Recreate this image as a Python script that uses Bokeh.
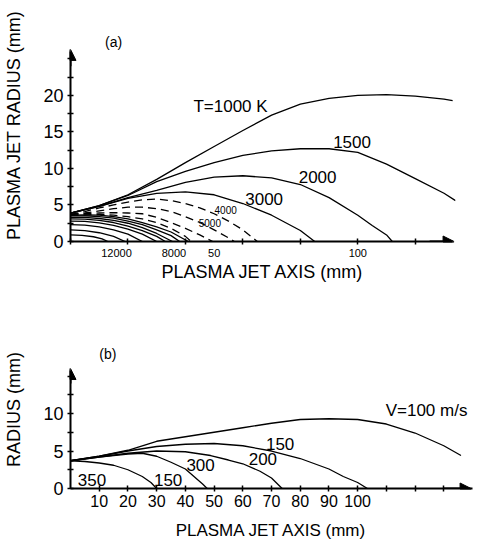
from bokeh.plotting import figure
from bokeh.models import Range1d, FixedTicker, Arrow, NormalHead
from bokeh.layouts import column
from bokeh.core.properties import value
from bokeh.embed import file_html
from bokeh.resources import INLINE

FONT = "Liberation Sans"

# ---------------- panel (a): temperature isotherms ----------------
t1000_x = [0, 10, 20, 30, 40, 50, 60, 70, 80, 90, 100, 110, 120, 130, 133]
t1000_y = [3.9, 4.9, 6.4, 8.5, 10.8, 13.0, 15.2, 17.3, 18.8, 19.6, 20.0, 20.1, 19.9, 19.5, 19.3]
t1500_x = [0, 10, 20, 30, 40, 50, 60, 70, 80, 90, 100, 110, 120, 130, 134]
t1500_y = [3.9, 4.9, 6.3, 8.2, 9.6, 10.8, 11.8, 12.4, 12.7, 12.7, 12.2, 10.6, 8.6, 6.6, 5.6]
t2000_x = [0, 10, 20, 30, 40, 50, 60, 70, 80, 90, 100, 105, 110, 112]
t2000_y = [3.9, 4.8, 6.0, 7.0, 8.1, 8.8, 9.0, 8.7, 7.8, 6.0, 3.6, 2.2, 0.9, 0]
t3000_x = [0, 10, 20, 30, 40, 50, 60, 70, 80, 85]
t3000_y = [3.9, 4.8, 5.9, 6.6, 6.8, 6.4, 5.2, 3.6, 1.5, 0]

# dashed isotherms
t4000_x = [0, 5, 10, 15, 20, 25, 30, 35, 40, 45, 50, 55, 60, 65]
t4000_y = [3.7, 4.1, 4.6, 5.0, 5.4, 5.7, 5.8, 5.6, 5.2, 4.6, 3.8, 2.8, 1.6, 0]
t5000_x = [0, 5, 10, 15, 20, 25, 30, 35, 40, 45, 50, 55, 57]
t5000_y = [3.7, 3.9, 4.2, 4.5, 4.7, 4.7, 4.5, 4.1, 3.4, 2.6, 1.6, 0.5, 0]
t6000_x = [0, 5, 10, 15, 20, 25, 30, 35, 40, 45, 49.5]
t6000_y = [3.7, 3.8, 3.9, 3.95, 3.9, 3.8, 3.3, 2.6, 1.8, 0.9, 0]
t7000_x = [0, 5, 10, 15, 20, 25, 30, 35, 40, 42]
t7000_y = [3.6, 3.65, 3.7, 3.6, 3.4, 3.1, 2.6, 1.8, 0.7, 0]

# inner solid isotherms (8000 ... 12000 K and hotter)
s1_x = [0, 4, 8, 11, 13]
s1_y = [0.9, 0.85, 0.65, 0.35, 0]
s2_x = [0, 5, 10, 15, 19]
s2_y = [1.6, 1.5, 1.2, 0.7, 0]
s3_x = [0, 5, 10, 15, 20, 25]
s3_y = [2.3, 2.25, 2.0, 1.6, 1.0, 0]
s4_x = [0, 5, 10, 15, 20, 25, 30]
s4_y = [2.8, 2.75, 2.55, 2.2, 1.7, 1.0, 0]
s5_x = [0, 5, 10, 15, 20, 25, 30, 33]
s5_y = [3.1, 3.05, 2.9, 2.6, 2.1, 1.5, 0.7, 0]
s6_x = [0, 5, 10, 15, 20, 25, 30, 35.5]
s6_y = [3.3, 3.3, 3.15, 2.9, 2.5, 1.9, 1.1, 0]
s7_x = [0, 5, 10, 15, 20, 25, 30, 35, 38]
s7_y = [3.5, 3.5, 3.4, 3.2, 2.8, 2.3, 1.6, 0.8, 0]
s8_x = [0, 5, 10, 15, 20, 25, 30, 35, 41]
s8_y = [3.6, 3.65, 3.6, 3.4, 3.1, 2.6, 2.0, 1.3, 0]

a_big_text = ["T=1000 K", "1500", "2000", "3000"]
a_big_x = [55.7, 98, 86, 67.4]
a_big_y = [18.5, 13.6, 8.8, 5.8]
a_small_text = ["4000", "5000"]
a_small_x = [54, 48.5]
a_small_y = [4.3, 2.6]

a_xtick_pos = [16, 36, 50, 100]
a_xtick_lab = ["12000", "8000", "50", "100"]
a_xminor = [0, 20, 40, 60, 80, 100, 120]
a_yticks = [0, 5, 10, 15, 20]
a_yminor = [2.5, 7.5, 12.5, 17.5, 22.5, 25]

# ---------------- panel (b): velocity contours ----------------
v350_x = [0, 5, 10, 15, 20, 25, 28, 30]
v350_y = [3.7, 3.6, 3.4, 3.1, 2.5, 1.6, 0.8, 0]
v250_x = [0, 10, 20, 25, 30, 35, 40, 43, 46, 47.6]
v250_y = [3.7, 4.2, 4.6, 4.7, 4.3, 3.5, 2.6, 1.6, 0.6, 0]
v200_x = [0, 10, 20, 30, 40, 48.8, 55, 60, 66, 70, 73.7]
v200_y = [3.7, 4.2, 4.7, 5.0, 4.9, 4.4, 3.8, 3.3, 2.3, 1.4, 0]
v150_x = [0, 10, 20, 30, 40, 50, 60, 70, 80, 90, 95, 100, 103.4]
v150_y = [3.7, 4.3, 5.0, 5.6, 5.9, 6.0, 5.7, 5.0, 4.0, 2.6, 1.6, 0.8, 0]
v100_x = [0, 10, 20, 30, 40, 50, 60, 70, 80, 90, 100, 110, 120, 130, 136]
v100_y = [3.7, 4.3, 5.1, 6.3, 6.9, 7.5, 8.1, 8.7, 9.2, 9.3, 9.2, 8.6, 7.4, 5.7, 4.4]

b_text = ["350", "150", "300", "200", "150", "V=100 m/s"]
b_text_x = [7.5, 34, 45.3, 67, 73, 124]
b_text_y = [1.1, 1.1, 3.1, 4.0, 6.0, 10.4]

b_xticks = [10, 20, 30, 40, 50, 60, 70, 80, 90, 100]
b_xminor = [110, 120, 130]
b_yticks = [0, 5, 10]
b_yminor = [2.5, 7.5, 12.5, 15]


def style(p, xlab, ylab):
    p.outline_line_color = None
    p.xgrid.visible = False
    p.ygrid.visible = False
    p.background_fill_color = "white"
    p.border_fill_color = "white"
    for ax in (p.xaxis[0], p.yaxis[0]):
        ax.axis_line_width = 2
        ax.axis_line_color = "black"
        ax.major_tick_line_width = 1.5
        ax.minor_tick_line_width = 1.5
        ax.major_tick_in = 3
        ax.major_tick_out = 3
        ax.minor_tick_in = 3
        ax.minor_tick_out = 3
        ax.major_label_text_font = FONT
        ax.axis_label_text_font = FONT
        ax.axis_label_text_font_style = "normal"
        ax.axis_label_text_color = "black"
        ax.major_label_text_color = "black"
    p.xaxis[0].axis_label = xlab
    p.yaxis[0].axis_label = ylab


LW = 1.3

# ---------- figure (a) ----------
pa = figure(output_backend="svg", toolbar_location=None,
            frame_width=385, frame_height=233,
            x_range=Range1d(0, 134), y_range=Range1d(0, 31.9),
            min_border_left=70, min_border_right=19, min_border_top=8, min_border_bottom=89)
style(pa, "PLASMA JET AXIS (mm)", "PLASMA JET RADIUS (mm)")
pa.xaxis[0].bounds = (0, 133)
pa.yaxis[0].bounds = (0, 26)
pa.xaxis[0].ticker = FixedTicker(ticks=a_xtick_pos, minor_ticks=a_xminor)
pa.xaxis[0].major_label_overrides = {k: v for k, v in zip(a_xtick_pos, a_xtick_lab)}
pa.xaxis[0].major_tick_line_color = None
pa.xaxis[0].major_label_text_font_size = "11px"
pa.xaxis[0].major_label_standoff = 4
pa.xaxis[0].axis_label_text_font_size = "18px"
pa.xaxis[0].axis_label_standoff = 2
pa.yaxis[0].ticker = FixedTicker(ticks=a_yticks, minor_ticks=a_yminor)
pa.yaxis[0].major_label_text_font_size = "18px"
pa.yaxis[0].major_label_standoff = 4
pa.yaxis[0].axis_label_text_font_size = "18px"
pa.yaxis[0].axis_label_standoff = 16

for xs, ys in [(t1000_x, t1000_y), (t1500_x, t1500_y), (t2000_x, t2000_y), (t3000_x, t3000_y),
               (s1_x, s1_y), (s2_x, s2_y), (s3_x, s3_y), (s4_x, s4_y),
               (s5_x, s5_y), (s6_x, s6_y), (s7_x, s7_y), (s8_x, s8_y)]:
    pa.line(xs, ys, line_color="black", line_width=LW)
for xs, ys in [(t4000_x, t4000_y), (t5000_x, t5000_y), (t6000_x, t6000_y), (t7000_x, t7000_y)]:
    pa.line(xs, ys, line_color="black", line_width=LW, line_dash="8 5")

pa.text(a_big_x, a_big_y, text=a_big_text, text_font=value(FONT), text_font_size="17px",
        text_align="center", text_baseline="middle", text_color="black")
pa.text(a_small_x, a_small_y, text=a_small_text, text_font=value(FONT), text_font_size="10px",
        text_align="center", text_baseline="middle", text_color="black")
pa.text([15], [27.3], text=["(a)"], text_font=value(FONT), text_font_size="14px",
        text_align="center", text_baseline="middle", text_color="black")
pa.add_layout(Arrow(end=NormalHead(size=11, fill_color="black", line_color="black"),
                    x_start=0, y_start=24, x_end=0, y_end=26.3, line_width=2))
pa.add_layout(Arrow(end=NormalHead(size=11, fill_color="black", line_color="black"),
                    x_start=125, y_start=0, x_end=133.5, y_end=0, line_width=2))

# ---------- figure (b) ----------
pb = figure(output_backend="svg", toolbar_location=None,
            frame_width=402, frame_height=158,
            x_range=Range1d(0, 140), y_range=Range1d(0, 21.07),
            min_border_left=70, min_border_right=4, min_border_top=0, min_border_bottom=54)
style(pb, "PLASMA JET AXIS (mm)", "RADIUS (mm)")
pb.xaxis[0].bounds = (0, 140)
pb.yaxis[0].bounds = (0, 15.7)
pb.xaxis[0].ticker = FixedTicker(ticks=b_xticks, minor_ticks=b_xminor)
pb.xaxis[0].major_label_text_font_size = "16px"
pb.xaxis[0].major_label_standoff = 3
pb.xaxis[0].axis_label_text_font_size = "17px"
pb.xaxis[0].axis_label_standoff = 11
pb.yaxis[0].ticker = FixedTicker(ticks=b_yticks, minor_ticks=b_yminor)
pb.yaxis[0].major_label_text_font_size = "18px"
pb.yaxis[0].major_label_standoff = 4
pb.yaxis[0].axis_label_text_font_size = "18px"
pb.yaxis[0].axis_label_standoff = 16

for xs, ys in [(v350_x, v350_y), (v250_x, v250_y), (v200_x, v200_y), (v150_x, v150_y), (v100_x, v100_y)]:
    pb.line(xs, ys, line_color="black", line_width=LW)
pb.text(b_text_x, b_text_y, text=b_text, text_font=value(FONT), text_font_size="17px",
        text_align="center", text_baseline="middle", text_color="black")
pb.text([13], [18], text=["(b)"], text_font=value(FONT), text_font_size="14px",
        text_align="center", text_baseline="middle", text_color="black")
pb.add_layout(Arrow(end=NormalHead(size=11, fill_color="black", line_color="black"),
                    x_start=0, y_start=14, x_end=0, y_end=16, line_width=2))
pb.add_layout(Arrow(end=NormalHead(size=11, fill_color="black", line_color="black"),
                    x_start=130, y_start=0, x_end=139.5, y_end=0, line_width=2))

layout = column(pa, pb, spacing=0)
open("out.html", "w").write(file_html(layout, INLINE))
